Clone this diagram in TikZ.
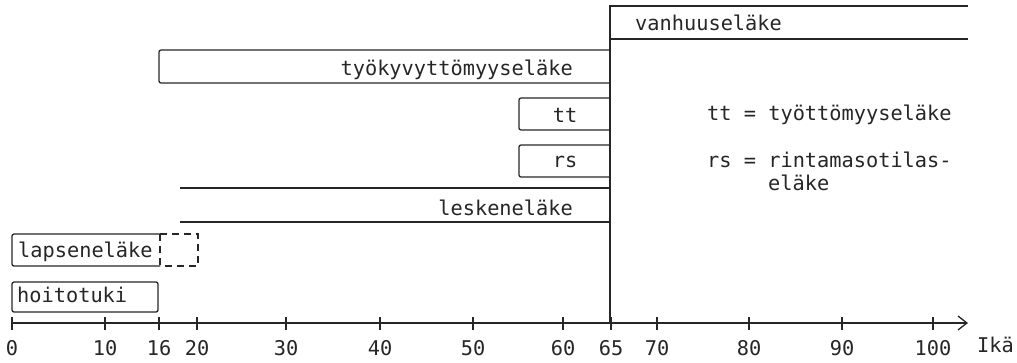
\documentclass[tikz,border=0pt]{standalone}
\usepackage{fontspec}
\setmainfont{DejaVu Sans Mono}
\usetikzlibrary{arrows.meta}
\begin{document}
\begin{tikzpicture}[x=1pt,y=-1pt,
  lbl/.style={inner sep=0pt, font=\fontsize{20.3}{22}\selectfont, text=black!85},
  ln/.style={draw=black!85, line width=1.3pt},
  bx/.style={ln, rounded corners=2pt}]
\useasboundingbox (0,0) rectangle (1017,362);
% axis
\coordinate (ax0) at (12,323);
\coordinate (axend) at (968,323);
\draw[ln,-{Straight Barb[length=9pt,width=14pt]}] (ax0) -- (axend);
\foreach \a/\x in {0/12,10/105,16/159,20/197,30/286,40/380,50/473,60/563,65/611,70/657,80/749,90/842,100/933}{
  \draw[ln] (\x,317) -- (\x,330);
  \node[lbl,anchor=base] (t\a) at (\x,355) {\a};
}
\node[lbl,anchor=base west] (ika) at (977,352) {Ikä};
% 65 line
\coordinate (v65top) at (610,5);
\coordinate (v65bot) at (610,323);
\draw[ln] (v65top) -- (v65bot);
% vanhuuselake
\draw[ln] (610,6) -- (968,6);
\draw[ln] (610,39) -- (968,39);
\node[lbl,anchor=base west] (vanh) at (635,30) {vanhuuseläke};
% tyokyvyttomyyselake
\draw[bx] (610,50) -- (159,50) -- (159,83) -- (610,83);
\node[lbl,anchor=base east] (tyok) at (573,75) {työkyvyttömyyseläke};
% tt
\draw[bx] (610,98) -- (519,98) -- (519,130) -- (610,130);
\node[lbl,anchor=base] (tt) at (565,122) {tt};
% rs
\draw[bx] (610,145) -- (519,145) -- (519,177) -- (610,177);
\node[lbl,anchor=base] (rs) at (565,167) {rs};
% leskenelake
\draw[ln] (180,188) -- (610,188);
\draw[ln] (180,222) -- (610,222);
\node[lbl,anchor=base east] (lesk) at (573,215) {leskeneläke};
% lapsenelake
\draw[bx] (160,234) -- (12,234) -- (12,266) -- (160,266);
\draw[ln,dash pattern=on 7pt off 5pt] (160,234) -- (198,234) -- (198,266) -- (160,266);
\draw[ln,dash pattern=on 7pt off 5pt] (160,234) -- (160,266);
\node[lbl,anchor=base west] (laps) at (18,257) {lapseneläke};
% hoitotuki
\draw[bx] (12,282) rectangle (158,312);
\node[lbl,anchor=base west] (hoito) at (17,302) {hoitotuki};
% legend
\node[lbl,anchor=base west] (leg1) at (707,120) {tt = työttömyyseläke};
\node[lbl,anchor=base west] (leg2) at (707,167) {rs = rintamasotilas-};
\node[lbl,anchor=base west] (leg3) at (768,190) {eläke};
\end{tikzpicture}
\end{document}
